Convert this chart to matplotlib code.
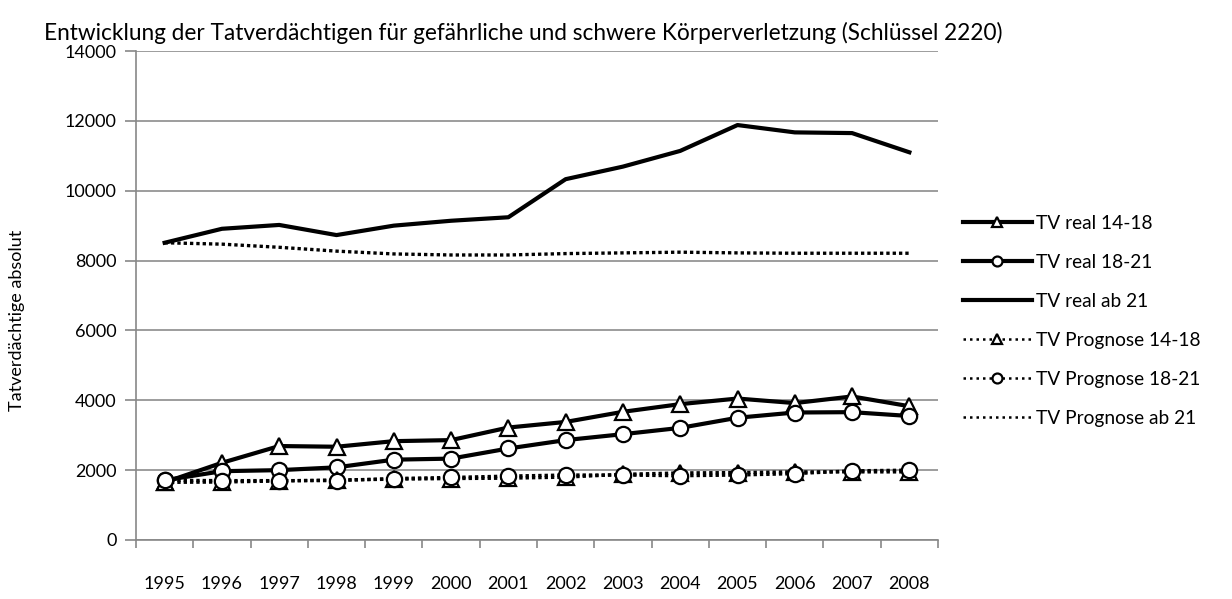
import matplotlib
matplotlib.use("Agg")
import matplotlib.pyplot as plt
import numpy as np

plt.rcParams["font.family"] = ["Lato", "DejaVu Sans"]

jahre = [str(j) for j in range(1995, 2009)]
real_14_18 = [1650, 2210, 2690, 2670, 2830, 2860, 3220, 3380, 3670, 3890, 4050, 3920, 4110, 3830]
real_18_21 = [1710, 1970, 2000, 2080, 2300, 2330, 2620, 2860, 3030, 3210, 3500, 3650, 3660, 3550]
real_ab_21 = [8510, 8910, 9020, 8730, 9000, 9140, 9240, 10330, 10690, 11140, 11880, 11670, 11650, 11100]
prog_14_18 = [1650, 1660, 1690, 1720, 1740, 1760, 1770, 1800, 1880, 1920, 1930, 1950, 1950, 1950]
prog_18_21 = [1710, 1700, 1700, 1700, 1760, 1790, 1830, 1860, 1860, 1840, 1860, 1900, 1980, 2000]
prog_ab_21 = [8510, 8470, 8380, 8270, 8190, 8160, 8160, 8200, 8220, 8240, 8220, 8210, 8210, 8210]

titel = "Entwicklung der Tatverdächtigen für gefährliche und schwere Körperverletzung (Schlüssel 2220)"

fig = plt.figure(figsize=(12.32, 5.99), dpi=100)
ax = fig.add_axes([136/1232, 59/599, 802/1232, 489/599])

x = np.arange(len(jahre))
dot = (0, (1, 0.9))
mk = dict(markersize=11, markerfacecolor="white", markeredgecolor="black", markeredgewidth=1.6)

ax.plot(x, real_14_18, color="black", lw=3, marker="^", label="TV real 14-18", **mk)
ax.plot(x, real_18_21, color="black", lw=3, marker="o", label="TV real 18-21", **mk)
ax.plot(x, real_ab_21, color="black", lw=3, label="TV real ab 21")
ax.plot(x, prog_14_18, color="black", lw=2.4, ls=dot, marker="^", label="TV Prognose 14-18", **mk)
ax.plot(x, prog_18_21, color="black", lw=2.4, ls=dot, marker="o", label="TV Prognose 18-21", **mk)
ax.plot(x, prog_ab_21, color="black", lw=2.4, ls=dot, label="TV Prognose ab 21")

ax.set_xlim(-0.5, len(jahre) - 0.5)
ax.set_ylim(0, 14000)
ax.set_yticks(range(0, 14001, 2000))
ax.set_xticks(x)
ax.set_xticklabels(jahre)
ax.set_xticks(np.arange(-0.5, len(jahre), 1), minor=True)
ax.tick_params(axis="x", which="major", length=0, pad=26, labelsize=13)
ax.tick_params(axis="x", which="minor", length=6, color="#888888", width=1.2)
ax.tick_params(axis="y", length=8, color="#888888", width=1.2, labelsize=13, pad=6)
ax.grid(axis="y", color="#8c8c8c", lw=1.2)
ax.set_axisbelow(True)
for s in ["top", "right"]:
    ax.spines[s].set_visible(False)
for s in ["left", "bottom"]:
    ax.spines[s].set_color("#888888")
    ax.spines[s].set_linewidth(1.2)

fig.text(44/1232, 1 - 33/599, titel, fontsize=16.3, va="center", ha="left")
fig.text(17/1232, 1 - 320/599, "Tatverdächtige absolut", rotation=90, fontsize=13,
         va="center", ha="center")

leg = ax.legend(loc="center left", bbox_to_anchor=(955/1232, 1 - 321/599), bbox_transform=fig.transFigure,
                frameon=False, fontsize=13.8, handlelength=3.6, labelspacing=1.15, handletextpad=0.25,
                markerscale=0.65, borderaxespad=0)
for h in leg.get_lines()[3:]:
    h.set_linewidth(1.8)
    h.set_linestyle((0, (1, 1.6)))

fig.savefig("out.png", dpi=100)
